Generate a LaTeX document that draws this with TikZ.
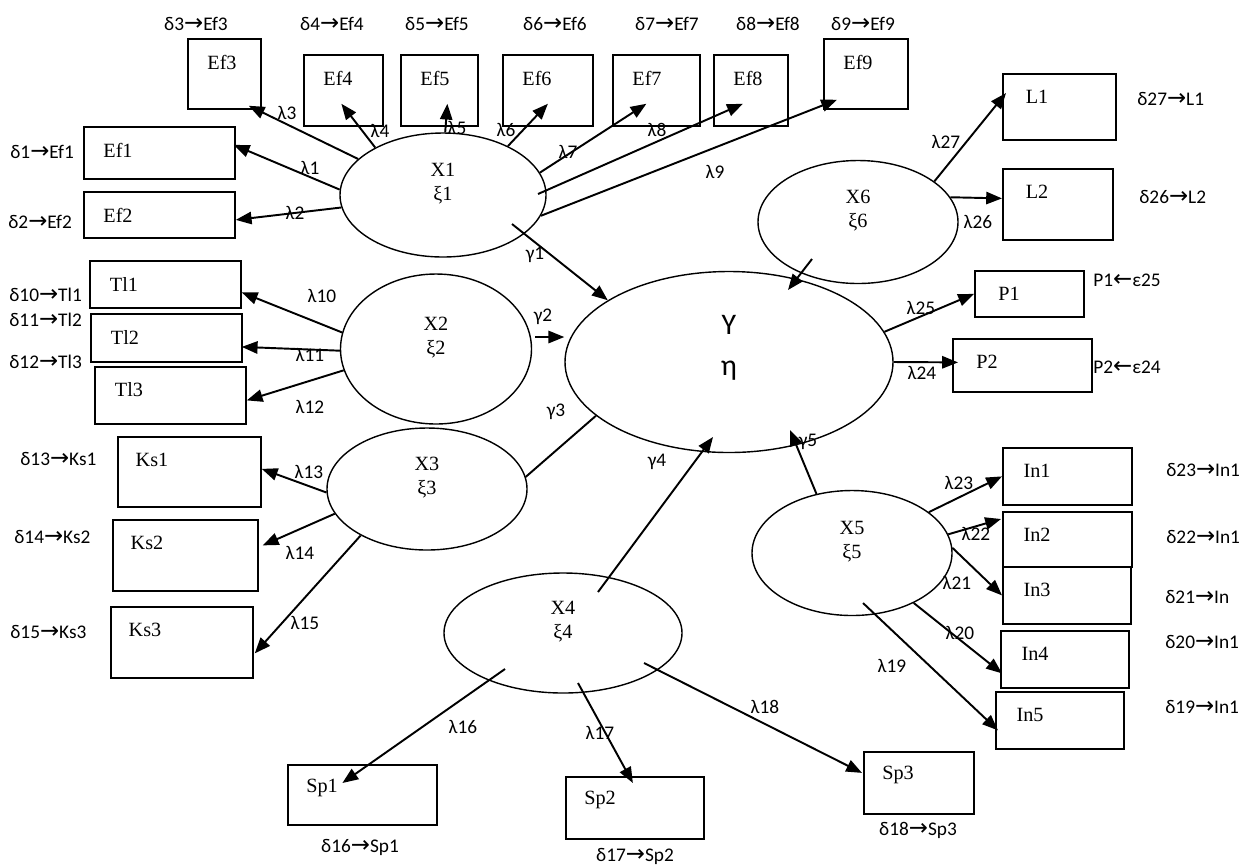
\documentclass[tikz,border=0pt]{standalone}
\usepackage{fontspec}
\setmainfont{Liberation Serif}
\newfontfamily\calib{Carlito}
\newfontfamily\djv{DejaVu Sans}
\usepackage{tikz}
\usetikzlibrary{shapes.geometric, arrows.meta, calc}
\newcommand\toarr{{\djv\fontsize{13}{13}\selectfont →}}
\newcommand\fromarr{{\djv\fontsize{13}{13}\selectfont ←}}

\begin{document}
\begin{tikzpicture}[x={(0.02cm,0)}, y={(0,-0.02cm)},
    font=\fontsize{11.5}{13.7}\selectfont,
    sz/.style 2 args={minimum width=#1*0.02cm, minimum height=#2*0.02cm},
    ind/.style={draw, line width=1pt, rectangle, inner sep=0pt, anchor=north west},
    itxt/.style={anchor=center, xshift=0.7cm, yshift=-0.48cm, inner sep=0pt},
    lat/.style={draw, ellipse, line width=0.8pt, inner sep=0pt},
    ltxt/.style={align=center, yshift=0.23cm, inner sep=0pt},
    err/.style={font=\calib\fontsize{11}{13}\selectfont, inner sep=0pt},
    coef/.style={font=\calib\fontsize{11}{13}\selectfont, inner sep=0pt},
    lk/.style={line width=1.1pt, -{Triangle[length=9pt,width=7pt]}},
    ln/.style={line width=1.1pt}]
    \useasboundingbox (0,0) rectangle (1257,867);

    % latent variables
    \node[lat, sz={206}{124}, label={[ltxt]center:X1\\ξ1}] (x1) at (443,195) {};
    \node[lat, sz={191}{150}, label={[ltxt]center:X2\\ξ2}] (x2) at (436,349) {};
    \node[lat, sz={200}{122}, label={[ltxt]center:X3\\ξ3}] (x3) at (427,489) {};
    \node[lat, sz={238}{120}, label={[ltxt]center:X4\\ξ4}] (x4) at (563,633) {};
    \node[lat, sz={200}{125}, label={[ltxt]center:X5\\ξ5}] (x5) at (852,553) {};
    \node[lat, sz={200}{123}, label={[ltxt]center:X6\\ξ6}] (x6) at (858,222) {};
    \node[lat, sz={328}{181}, label={[ltxt, yshift=0.06cm, font=\calib\fontsize{17}{23.3}\selectfont]center:Υ\\η}] (y) at (729,362) {};

    % indicators
    \node[ind, sz={151}{52}, label={[itxt]north west:Ef1}] (ef1) at (83,126) {};
    \node[ind, sz={151}{46}, label={[itxt]north west:Ef2}] (ef2) at (83,191) {};
    \node[ind, sz={73}{70}, label={[itxt]north west:Ef3}] (ef3) at (187,38) {};
    \node[ind, sz={79}{71}, label={[itxt]north west:Ef4}] (ef4) at (303,54) {};
    \node[ind, sz={77}{71}, label={[itxt]north west:Ef5}] (ef5) at (400,54) {};
    \node[ind, sz={90}{71}, label={[itxt]north west:Ef6}] (ef6) at (502,54) {};
    \node[ind, sz={87}{71}, label={[itxt]north west:Ef7}] (ef7) at (612,54) {};
    \node[ind, sz={74}{71}, label={[itxt]north west:Ef8}] (ef8) at (713,54) {};
    \node[ind, sz={84}{70}, label={[itxt]north west:Ef9}] (ef9) at (823,38) {};
    \node[ind, sz={151}{47}, label={[itxt]north west:Tl1}] (tl1) at (89,260) {};
    \node[ind, sz={151}{48}, label={[itxt]north west:Tl2}] (tl2) at (90,313) {};
    \node[ind, sz={151}{57}, label={[itxt]north west:Tl3}] (tl3) at (94,366) {};
    \node[ind, sz={143}{70}, label={[itxt]north west:Ks1}] (ks1) at (117,436) {};
    \node[ind, sz={145}{71}, label={[itxt]north west:Ks2}] (ks2) at (112,519) {};
    \node[ind, sz={142}{71}, label={[itxt]north west:Ks3}] (ks3) at (110,606) {};
    \node[ind, sz={149}{60}, label={[itxt]north west:Sp1}] (sp1) at (287,764) {};
    \node[ind, sz={138}{62}, label={[itxt]north west:Sp2}] (sp2) at (565,776) {};
    \node[ind, sz={110}{62}, label={[itxt]north west:Sp3}] (sp3) at (863,751) {};
    \node[ind, sz={129}{57}, label={[itxt]north west:In1}] (in1) at (1002,447) {};
    \node[ind, sz={129}{55}, label={[itxt]north west:In2}] (in2) at (1002,511) {};
    \node[ind, sz={128}{57}, label={[itxt]north west:In3}] (in3) at (1002,566) {};
    \node[ind, sz={128}{57}, label={[itxt]north west:In4}] (in4) at (1000,630) {};
    \node[ind, sz={128}{57}, label={[itxt]north west:In5}] (in5) at (995,691) {};
    \node[ind, sz={113}{66}, label={[itxt]north west:L1}] (l1) at (1002,73) {};
    \node[ind, sz={110}{71}, label={[itxt]north west:L2}] (l2) at (1002,168) {};
    \node[ind, sz={109}{46}, label={[itxt]north west:P1}] (p1) at (974,270) {};
    \node[ind, sz={139}{53}, label={[itxt]north west:P2}] (p2) at (952,338) {};

    % errors
    \node[err, anchor=west] (d1) at (10,152) {δ1\toarr Ef1};
    \node[err, anchor=west] (d2) at (8,222) {δ2\toarr Ef2};
    \node[err] (d3) at (196,24) {δ3\toarr Ef3};
    \node[err] (d4) at (332,24) {δ4\toarr Ef4};
    \node[err] (d5) at (437,24) {δ5\toarr Ef5};
    \node[err] (d6) at (555,24) {δ6\toarr Ef6};
    \node[err] (d7) at (667,24) {δ7\toarr Ef7};
    \node[err] (d8) at (768,24) {δ8\toarr Ef8};
    \node[err] (d9) at (863,24) {δ9\toarr Ef9};
    \node[err, anchor=west] (d10) at (9,295) {δ10\toarr Tl1};
    \node[err, anchor=west] (d11) at (9,320) {δ11\toarr Tl2};
    \node[err, anchor=west] (d12) at (9,362) {δ12\toarr Tl3};
    \node[err, anchor=west] (d13) at (20,459) {δ13\toarr Ks1};
    \node[err, anchor=west] (d14) at (14,537) {δ14\toarr Ks2};
    \node[err, anchor=west] (d15) at (10,632) {δ15\toarr Ks3};
    \node[err] (d16) at (360,847) {δ16\toarr Sp1};
    \node[err] (d17) at (635,856) {δ17\toarr Sp2};
    \node[err] (d18) at (918,830) {δ18\toarr Sp3};
    \node[err, anchor=west] (d19) at (1165,707) {δ19\toarr In1};
    \node[err, anchor=west] (d20) at (1165,642) {δ20\toarr In1};
    \node[err, anchor=west] (d21) at (1165,597) {δ21\toarr In};
    \node[err, anchor=west] (d22) at (1166,537) {δ22\toarr In1};
    \node[err, anchor=west] (d23) at (1166,470) {δ23\toarr In1};
    \node[err, anchor=west] (d26) at (1139,197) {δ26\toarr L2};
    \node[err, anchor=west] (d27) at (1137,99) {δ27\toarr L1};
    \node[err, anchor=west] (e25) at (1093,280) {P1\fromarr ε25};
    \node[err, anchor=west] (e24) at (1093,367) {P2\fromarr ε24};

    % loadings
    \draw[lk] (x1.177) -- ([shift={(-2,-8)}]ef1.east);
    \draw[lk] (x1.187) -- ([shift={(0,5)}]ef2.east);
    \draw[lk] (x1.157) -- ([shift={(-13,-4)}]ef3.south east);
    \draw[lk] (x1.145) -- ([shift={(-2,-23)}]ef4.south);
    \draw[lk] (x1.88) -- ([shift={(8,-23)}]ef5.south);
    \draw[lk] (x1.37) -- ([shift={(0,-23)}]ef6.south);
    \draw[lk] (x1.13) -- ([shift={(-10,-23)}]ef7.south);
    \draw[lk] ([shift={(95,-1)}]x1.center) -- ([shift={(-8,-23)}]ef8.south);
    \draw[lk] (x1.-12) -- ([shift={(14,-10)}]ef9.south west);
    \draw[lk] (x2.170) -- ([shift={(0,8)}]tl1.east);
    \draw[lk] (x2.181) -- ([shift={(-1,9)}]tl2.east);
    \draw[lk] (x2.193) -- ([shift={(0,5)}]tl3.east);
    \draw[lk] (x3.182) -- ([shift={(0,-3)}]ks1.east);
    \draw[lk] (x3.195) -- ([shift={(4,-10)}]ks2.east);
    \draw[lk] (x3.215) -- ([shift={(1,11)}]ks3.east);
    \draw[lk] ([shift={(-58,36)}]x4.center) -- ([shift={(-20,19)}]sp1.north);
    \draw[lk] ([shift={(15,50)}]x4.center) -- ([shift={(-2,7)}]sp2.north);
    \draw[lk] ([shift={(81,30)}]x4.center) -- ([shift={(-1,-10)}]sp3.west);
    \draw[lk] (x5.28) -- (in1.west);
    \draw[lk] (x5.11) -- ([shift={(-1,8)}]in2.north west);
    \draw[lk] (x5.3) -- (in3.west);
    \draw[lk] (x5.-39) -- ([shift={(2,14)}]in4.west);
    \draw[lk] ([shift={(11,50)}]x5.center) -- ([shift={(3,10)}]in5.west);
    \draw[lk] (x6.28) -- ([shift={(4,20)}]l1.north west);
    \draw[lk] (x6.15) -- ([shift={(0,-6)}]l2.west);
    \draw[lk] (y.11) -- (p1.west);
    \draw[lk] (y.east) -- ([shift={(6,-3)}]p2.west);

    % paths to eta
    \draw[lk] ([shift={(69,29)}]x1.center) -- (y.153);
    \draw[lk] ([shift={(3,-12)}]x2.east) -- ([shift={(0,-25)}]y.west);
    \draw[ln] (x3.7) -- (y.202);
    \draw[lk] ([shift={(35,-41)}]x4.center) -- ([shift={(-16,75)}]y.center);
    \draw[lk] (x5.121) -- ([shift={(61,68)}]y.center);
    \draw[lk] ([shift={(-46,37)}]x6.center) -- ([shift={(59,-72)}]y.center);

    % coefficients
    \node[coef] (lam1) at (310,168) {λ1};
    \node[coef] (lam2) at (295,213) {λ2};
    \node[coef] (lam3) at (287,113) {λ3};
    \node[coef] (lam4) at (380,131) {λ4};
    \node[coef] (lam5) at (457,128) {λ5};
    \node[coef] (lam6) at (506,130) {λ6};
    \node[coef] (lam7) at (568,152) {λ7};
    \node[coef] (lam8) at (657,130) {λ8};
    \node[coef] (lam9) at (715,172) {λ9};
    \node[coef] (lam10) at (322,296) {λ10};
    \node[coef] (lam11) at (310,355) {λ11};
    \node[coef] (lam12) at (310,407) {λ12};
    \node[coef] (lam13) at (309,472) {λ13};
    \node[coef] (lam14) at (300,553) {λ14};
    \node[coef] (lam15) at (305,623) {λ15};
    \node[coef] (lam16) at (463,727) {λ16};
    \node[coef] (lam17) at (600,733) {λ17};
    \node[coef] (lam18) at (765,707) {λ18};
    \node[coef] (lam19) at (892,666) {λ19};
    \node[coef] (lam20) at (960,633) {λ20};
    \node[coef] (lam21) at (957,583) {λ21};
    \node[coef] (lam22) at (976,534) {λ22};
    \node[coef] (lam23) at (959,483) {λ23};
    \node[coef] (lam24) at (922,373) {λ24};
    \node[coef] (lam25) at (921,308) {λ25};
    \node[coef] (lam26) at (978,222) {λ26};
    \node[coef] (lam27) at (946,142) {λ27};
    \node[coef] (gam1) at (535,255) {γ1};
    \node[coef] (gam2) at (543,317) {γ2};
    \node[coef] (gam3) at (556,412) {γ3};
    \node[coef] (gam4) at (657,462) {γ4};
    \node[coef] (gam5) at (808,442) {γ5};
\end{tikzpicture}
\end{document}
